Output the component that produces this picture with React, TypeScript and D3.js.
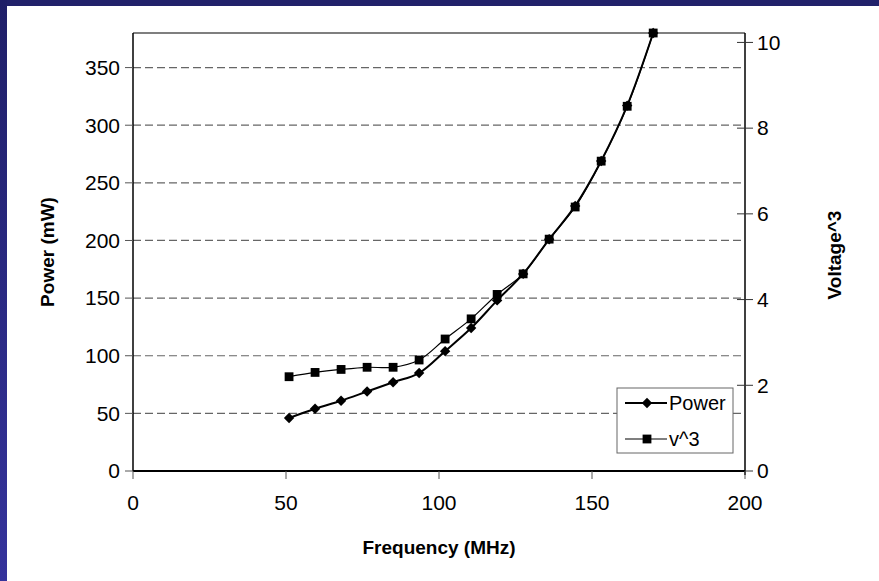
import React from "react";
import * as d3 from "d3";

// frequency (MHz) of each measurement
const freq = [51, 59.5, 68, 76.5, 85, 93.5, 102, 110.5, 119, 127.5, 136, 144.5, 153, 161.5, 170];
// power in mW (left axis)
const power = [46, 54, 61, 69, 77, 85, 104, 124, 148, 171, 201, 230, 269, 317, 380];
// voltage cubed (right axis)
const v3 = [2.2, 2.3, 2.37, 2.42, 2.42, 2.59, 3.08, 3.55, 4.12, 4.6, 5.41, 6.16, 7.23, 8.51, 10.22];

const xTicks = [0, 50, 100, 150, 200];
const leftTicks = [0, 50, 100, 150, 200, 250, 300, 350];
const rightTicks = [0, 2, 4, 6, 8, 10];
const seriesNames = ["Power", "v^3"];

const W = 879;
const H = 581;
const font = "'Liberation Sans', Arial, sans-serif";

export default function App() {
    const plot = { left: 133, right: 745, top: 33, bottom: 471 };

    const x = d3.scaleLinear().domain([0, 200]).range([plot.left, plot.right]);
    const yL = d3.scaleLinear().domain([0, 380]).range([plot.bottom, plot.top]);
    const yR = d3.scaleLinear().domain([0, 10.22]).range([plot.bottom, plot.top]);

    const powerPts = freq.map((f, i) => [x(f), yL(power[i])] as [number, number]);
    const v3Pts = freq.map((f, i) => [x(f), yR(v3[i])] as [number, number]);

    const line = d3.line().curve(d3.curveCatmullRom.alpha(0.5));
    const diamond = (cx: number, cy: number, r = 5.2) =>
        `M${cx},${cy - r}L${cx + r},${cy}L${cx},${cy + r}L${cx - r},${cy}Z`;

    const legend = { x: 617, y: 388, w: 116, h: 65 };

    return (
        <div style={{ position: "absolute", left: 0, top: 0 }}>
            <svg width={W} height={H} style={{ display: "block" }} fontFamily={font}>
                <defs>
                    <linearGradient id="side" x1="0" y1="0" x2="0" y2="1">
                        <stop offset="0" stopColor="#1f1f68" />
                        <stop offset="1" stopColor="#35339c" />
                    </linearGradient>
                </defs>
                <rect width={W} height={H} fill="#fff" />
                <rect x={0} y={0} width={W} height={6} fill="#21216a" />
                <rect x={0} y={0} width={7} height={H} fill="url(#side)" />

                {/* gridlines */}
                {leftTicks.filter(t => t > 0).map(t => (
                    <line key={t} x1={plot.left} x2={plot.right} y1={yL(t)} y2={yL(t)}
                        stroke="#666" strokeWidth={1.2} strokeDasharray="8,4" />
                ))}

                {/* frame */}
                <line x1={plot.left} x2={plot.right} y1={plot.top} y2={plot.top} stroke="#000" strokeWidth={1.2} />

                {/* left axis */}
                <line x1={plot.left} x2={plot.left} y1={plot.top} y2={plot.bottom} stroke="#000" strokeWidth={1.5} />
                {leftTicks.map(t => (
                    <g key={t}>
                        <line x1={plot.left - 8} x2={plot.left} y1={yL(t)} y2={yL(t)} stroke="#555" />
                        <text x={plot.left - 13} y={yL(t)} dy="0.35em" textAnchor="end" fontSize={21}>{t}</text>
                    </g>
                ))}

                {/* right axis */}
                <line x1={plot.right} x2={plot.right} y1={plot.top} y2={plot.bottom + 4} stroke="#000" strokeWidth={1.5} />
                {rightTicks.map(t => (
                    <g key={t}>
                        <line x1={plot.right - 8} x2={plot.right + 8} y1={yR(t)} y2={yR(t)} stroke="#333" />
                        <text x={plot.right + 12} y={yR(t)} dy="0.35em" fontSize={21}>{t}</text>
                    </g>
                ))}

                {/* bottom axis */}
                <line x1={plot.left} x2={plot.right} y1={plot.bottom} y2={plot.bottom} stroke="#000" strokeWidth={2} />
                {xTicks.map(t => (
                    <g key={t}>
                        <line x1={x(t)} x2={x(t)} y1={plot.bottom} y2={plot.bottom + 8} stroke="#555" />
                        <text x={x(t)} y={plot.bottom + 39} textAnchor="middle" fontSize={21}>{t}</text>
                    </g>
                ))}

                {/* axis titles */}
                <text x={(plot.left + plot.right) / 2} y={554} textAnchor="middle" fontSize={19} fontWeight="bold">Frequency (MHz)</text>
                <text transform={`translate(54,${(plot.top + plot.bottom) / 2}) rotate(-90)`} textAnchor="middle" fontSize={19} fontWeight="bold">Power (mW)</text>
                <text transform={`translate(841,${(plot.top + plot.bottom) / 2 + 3}) rotate(-90)`} textAnchor="middle" fontSize={19} fontWeight="bold">Voltage^3</text>

                {/* series */}
                <path d={line(powerPts) ?? ""} fill="none" stroke="#000" strokeWidth={2} />
                {powerPts.map(([cx, cy], i) => <path key={i} d={diamond(cx, cy)} fill="#000" />)}
                <path d={line(v3Pts) ?? ""} fill="none" stroke="#000" strokeWidth={1.2} />
                {v3Pts.map(([cx, cy], i) => <rect key={i} x={cx - 4.4} y={cy - 4.4} width={8.8} height={8.8} fill="#000" />)}

                {/* legend */}
                <rect x={legend.x} y={legend.y} width={legend.w} height={legend.h} fill="#fff" stroke="#666" strokeWidth={1} />
                {seriesNames.map((name, i) => {
                    const ly = legend.y + 15 + i * 36;
                    return (
                        <g key={name}>
                            <line x1={legend.x + 8} x2={legend.x + 50} y1={ly} y2={ly} stroke="#000" strokeWidth={i === 0 ? 2 : 1.2} />
                            {i === 0
                                ? <path d={diamond(legend.x + 30, ly)} fill="#000" />
                                : <rect x={legend.x + 30 - 4.4} y={ly - 4.4} width={8.8} height={8.8} fill="#000" />}
                            <text x={legend.x + 52} y={ly} dy="0.35em" fontSize={20}>{name}</text>
                        </g>
                    );
                })}
            </svg>
        </div>
    );
}
